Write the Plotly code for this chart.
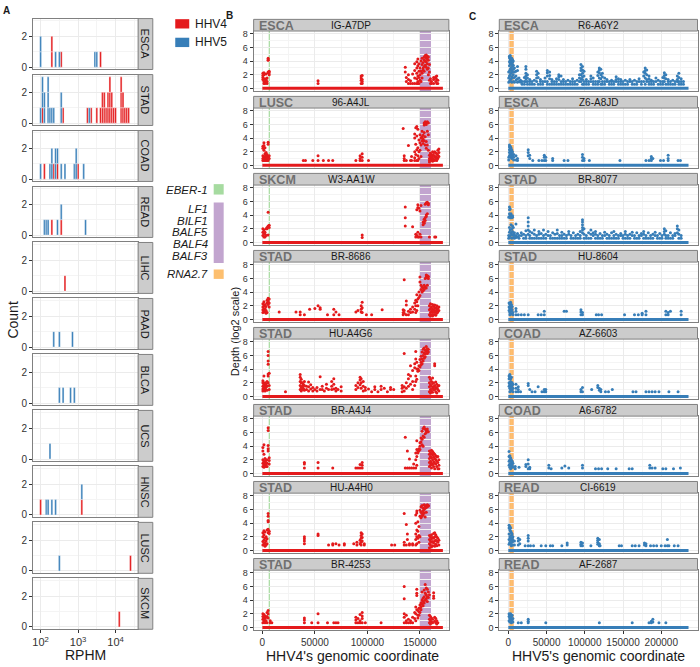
import plotly.graph_objects as go

W, H = 700, 667
FONT = 'Liberation Sans, Arial, Helvetica, sans-serif'
RED, BLUE = '#e41a1c', '#377eb8'
GREEN_GENE, PURPLE_GENE, ORANGE_GENE = '#a6dba0', '#c2a5cf', '#fdbf6f'

# ---------------- Panel A: histogram bins (log10 RPHM bin centre) and counts ----------------
A_CANCERS = ['ESCA', 'STAD', 'COAD', 'READ', 'LIHC', 'PAAD', 'BLCA', 'UCS', 'HNSC', 'LUSC', 'SKCM']
A_HHV4_BINS = {
    'ESCA': [2.30, 2.55, 3.60],
    'STAD': [2.05, 2.60, 3.25, 3.35, 3.50, 3.60, 3.65, 3.70, 3.75, 3.80, 3.85, 3.90, 3.95, 4.00,
             4.15, 4.20, 4.25, 4.30, 4.35],
    'COAD': [2.10, 2.35, 2.45, 3.00],
    'READ': [2.30, 2.55],
    'LIHC': [2.65],
    'HNSC': [2.00, 3.10],
    'LUSC': [4.40],
    'SKCM': [4.10],
}
A_HHV4_COUNTS = {
    'ESCA': [2, 1, 1],
    'STAD': [1, 1, 1, 1, 1, 1, 2, 2, 1, 2, 3, 2, 1, 1, 3, 2, 1, 1, 1],
    'COAD': [1, 1, 1, 1],
    'READ': [1, 1],
    'LIHC': [1],
    'HNSC': [1, 1],
    'LUSC': [1],
    'SKCM': [1],
}
A_HHV5_BINS = {
    'ESCA': [2.00, 2.40, 2.50, 3.45, 3.50],
    'STAD': [2.00, 2.05, 2.10, 2.20, 2.25, 2.30, 2.35, 2.55, 3.30],
    'COAD': [2.00, 2.25, 2.30, 2.40, 2.45, 2.55, 2.65, 2.90, 2.95, 3.15],
    'READ': [2.10, 2.15, 2.20, 2.45, 2.55, 3.20],
    'PAAD': [2.35, 2.50, 2.85],
    'BLCA': [2.50, 2.60, 2.80, 2.90],
    'UCS': [2.25],
    'HNSC': [2.15, 2.20, 2.30, 2.40, 3.10],
    'LUSC': [2.50],
}
A_HHV5_COUNTS = {
    'ESCA': [2, 1, 1, 1, 1],
    'STAD': [1, 2, 2, 3, 1, 1, 1, 2, 1],
    'COAD': [1, 1, 2, 2, 1, 1, 1, 1, 2, 1],
    'READ': [1, 1, 1, 1, 1, 1],
    'PAAD': [1, 1, 1],
    'BLCA': [1, 1, 1, 1],
    'UCS': [1],
    'HNSC': [1, 1, 1, 1, 1],
    'LUSC': [1],
}
A_BIN_WIDTH = 0.05
A_XTICKS = [2, 3, 4]
A_XTICKTEXT = ['10<sup>2</sup>', '10<sup>3</sup>', '10<sup>4</sup>']

# ---------------- Panels B / C: (position in kb, [log2 depths]) columns ----------------
HHV4_LENGTH = 171823
HHV5_LENGTH = 235646
EBER1_POS = 6600
LF1_BALF3 = (150000, 160500)
RNA27 = (2000, 6500)

B1_ESCA_IG_A7DP = [
    (0.5, [2.2, 1.9, 1.6, 1.3]), (1.5, [2.3, 2.0, 1.0, 0.7]), (2.5, [1.4, 1.0, 0.7]), (3.5, [2.1, 1.3, 1.0]),
    (4.5, [1.5, 1.0, 0.7]), (5.5, [2.4, 2.3, 4.1, 4.4, 4.2]), (6.5, [2.5, 2.3, 2.0]),
    (53, [1.1, 0.7]), (94, [1.8, 1.5, 1.2, 0.7]), (95, [1.9, 1.3, 1.0, 0.7]),
    (136, [3.1, 2.4]), (137, [1.6, 1.0]), (139, [2.0, 1.3, 0.7]), (141, [0.7, 1.1]), (143, [2.1, 0.7]),
    (145, [3.6, 2.6, 1.5, 0.7]), (147, [3.9, 3.0, 2.2, 1.4, 0.7]), (148, [4.3, 3.3, 1.8, 1.0, 0.7]),
    (149, [3.6, 2.5, 1.6, 0.7]), (150, [3.0, 2.0, 1.2]), (151, [4.0, 2.5, 1.0]), (152, [4.4, 3.5, 2.2, 1.5]),
    (153, [3.8, 3.0, 2.7]), (154, [4.2, 4.6, 3.2, 2.5]), (155, [4.8, 4.0, 3.4]), (156, [4.5, 4.9, 3.9, 3.1]),
    (157, [4.3, 4.7, 3.6, 2.8]), (158, [4.6, 4.1, 3.0, 2.0]), (159, [3.5, 2.4, 1.2]), (160, [1.4, 0.7]),
    (161, [1.0, 0.7]), (163, [1.3, 1.6, 0.7]), (165, [1.7, 1.5, 1.0]), (166, [1.8, 1.3, 0.7]), (167, [1.2, 0.7]),
]
B2_LUSC_96_A4JL = [
    (0.5, [2.8, 2.5, 1.4, 1.0, 0.7]), (1.5, [3.3, 2.9, 2.2, 1.2, 0.7]), (2.5, [2.6, 1.7, 1.3, 1.0, 0.7]),
    (3.5, [1.9, 1.5, 1.2, 0.7]), (4.5, [1.6, 1.3, 1.0, 0.7]), (5.5, [3.4, 3.1, 1.2, 0.7]), (6.5, [1.4, 1.0]),
    (39, [0.7]), (41, [0.7]), (48, [0.7]), (53, [1.4, 0.7]), (58, [0.7]), (63, [0.7]), (67, [0.7]), (89, [0.7]),
    (93, [0.7, 1.0, 1.4]), (95, [1.7, 1.2, 0.7]), (101, [0.7]),
    (134, [5.4]), (135, [1.4, 1.0, 0.7]), (137, [0.7]), (139, [2.9]), (141, [0.7]), (142, [1.3, 0.7]),
    (145, [4.6, 4.0, 2.0, 1.1, 0.7]), (146, [5.5, 3.1, 1.6]), (147, [5.7, 4.3, 2.3, 0.7]),
    (148, [5.3, 2.6, 1.4, 0.7]), (149, [3.7, 2.0, 1.0]), (150, [4.5, 3.3, 2.2]), (151, [4.0, 3.0, 1.3]),
    (152, [5.0, 4.2, 3.6]), (153, [4.4, 3.9, 3.2]), (154, [6.2, 5.9, 4.8, 3.6]), (155, [6.4, 6.1, 4.2, 3.0]),
    (156, [6.0, 6.3, 3.5, 2.5]), (157, [6.4, 5.0, 3.0]), (158, [6.2, 4.5, 2.2]),
    (159, [1.5, 1.0, 0.7, 0.5]), (160, [1.8, 1.3, 0.9]), (161, [1.6, 1.1, 0.7]), (162, [2.0, 1.4, 1.0, 0.6]),
    (163, [1.9, 1.5, 0.8]), (164, [2.0, 1.2, 0.7]), (165, [1.8, 1.3, 1.0]), (166, [1.7, 1.1, 0.7]),
    (167, [2.2, 1.5, 1.0]), (168, [2.4, 1.9, 1.3]),
]
B3_SKCM_W3_AA1W = [
    (0.5, [2.0, 1.5, 1.0]), (1.5, [1.8, 1.3, 0.8]), (2.5, [1.5, 1.2, 0.8]), (3.5, [2.0, 1.0]),
    (4.5, [2.2, 2.0]), (5.5, [2.4, 2.3, 4.4, 1.1]), (6.5, [2.5, 2.2]),
    (95, [1.1, 0.7]),
    (136, [5.2, 3.6, 2.4]), (143, [2.3]), (146, [1.2, 0.8]), (147, [4.8, 1.0]), (148, [5.5, 5.1, 1.5, 0.8]),
    (149, [5.0, 0.8]), (150, [4.6, 1.2]), (151, [5.4, 0.8]),
    (153, [3.0, 2.6]), (154, [3.4, 3.0, 2.8]), (155, [3.6, 3.2, 5.6]), (156, [4.0, 3.8, 5.8]),
    (157, [5.9, 5.7, 4.2]), (158, [5.7, 5.5]), (159, [0.8]), (164, [0.8]), (165, [0.8]),
]
B4_STAD_BR_8686 = [
    (0.5, [2.3, 1.8, 1.4, 1.0]), (1.5, [2.6, 2.0, 1.5, 1.1]), (2.5, [2.2, 1.6, 1.2]), (3.5, [1.9, 1.3, 0.9]),
    (4.5, [2.8, 2.4, 1.0]), (5.5, [3.1, 2.7, 2.2]), (6.5, [3.0, 2.4, 1.8]),
    (16, [1.1]), (32, [1.1]), (36, [1.1, 0.7]), (40, [0.7]), (45, [1.5]), (50, [1.6]), (53, [2.0]),
    (55, [1.7, 1.5]), (62, [0.7]), (68, [1.5, 0.7]), (70, [1.1]), (73, [0.7]),
    (89, [1.1]), (91, [1.3]), (94, [2.0, 1.5, 1.1]), (95, [2.5, 1.7, 1.0]), (99, [0.7]), (104, [0.7]), (114, [1.4]),
    (134, [1.4, 1.0, 0.7]), (135, [5.8, 1.3, 0.9]), (137, [2.7, 2.1, 0.7]), (139, [1.2, 0.7]), (141, [1.5, 1.0]),
    (143, [1.8, 1.1]), (145, [2.4, 1.5]), (146, [2.8, 2.0, 1.0]), (147, [3.6, 2.6, 1.3]),
    (148, [3.0, 2.0]), (149, [4.0, 3.2]), (150, [6.2, 5.5, 3.5]), (151, [5.0, 4.4]), (152, [4.8, 4.0]),
    (153, [4.6, 4.2]), (154, [4.4, 5.0]), (155, [6.0, 4.8]), (156, [6.5, 6.2, 4.6]), (157, [6.4, 6.1, 5.0]),
    (158, [6.3, 6.0]),
    (159, [2.0, 1.4, 0.7]), (160, [2.3, 1.6, 1.0, 0.5]), (161, [1.8, 1.2, 0.7]), (162, [2.2, 1.5, 1.0, 0.5]),
    (163, [1.9, 1.3, 0.7]), (164, [2.1, 1.6, 1.0]), (165, [1.7, 1.2, 0.6]), (166, [2.0, 1.4, 0.9]),
    (167, [1.6, 1.1]), (168, [1.8, 1.3]),
]
B5_STAD_HU_A4G6 = [
    (0.5, [2.3, 2.0, 1.5, 1.1, 0.8]), (1.5, [3.0, 1.8, 1.3, 1.0]), (2.5, [2.0, 1.6, 1.2, 0.8]),
    (3.5, [1.8, 1.4, 1.0]), (4.5, [2.2, 1.5, 0.9]), (5.5, [6.6, 6.0, 5.2, 4.7, 3.3, 3.0, 2.0]),
    (6.5, [3.4, 1.6, 1.0]), (22, [0.7]),
    (36, [3.2, 2.8, 2.2, 1.6, 1.0]), (37, [2.5, 2.0, 1.3, 0.8]), (38, [2.0, 1.5, 1.0]), (39, [1.8, 1.2]),
    (40, [2.2, 1.6, 0.9]), (42, [1.5, 1.0]), (44, [2.1, 1.4, 0.8]), (46, [1.7, 1.1]), (48, [1.3, 0.8]),
    (50, [1.0]), (52, [1.3, 0.8]), (55, [2.9, 1.0]), (57, [1.5, 1.0]), (59, [0.8]), (61, [1.8, 1.2]),
    (63, [1.0]), (66, [2.2, 1.5, 1.0]), (68, [2.6, 1.8, 1.1]), (70, [1.2, 0.8]), (72, [1.0]), (75, [1.4, 0.8]),
    (89, [1.6, 1.0]), (91, [2.0, 1.3]), (93, [2.8, 2.4, 1.7]), (94, [2.6, 2.0, 1.2]), (96, [2.2, 1.5, 0.8]),
    (98, [1.3, 0.9]), (101, [1.1]), (104, [0.7]), (107, [1.4, 1.0]), (110, [0.7]), (113, [1.5, 1.0]),
    (116, [1.2]), (119, [0.7]), (122, [1.3, 1.0]), (125, [1.0]),
    (133, [1.6, 1.2, 0.7]), (135, [6.3, 1.4, 0.8]), (137, [2.0, 1.2]), (139, [3.2, 2.6, 1.5]),
    (141, [4.5, 3.0, 1.8]), (143, [3.8, 2.2, 1.0]), (145, [4.8, 4.2, 1.6]), (146, [6.6, 5.5, 3.0, 2.2]),
    (147, [5.0, 4.0, 2.5]), (148, [4.0, 3.7]), (149, [4.5, 3.8]), (150, [5.4, 4.3]), (151, [5.9, 5.0, 4.6]),
    (152, [6.5, 5.5, 4.8]), (153, [6.9, 6.0, 5.2]), (154, [7.1, 6.4, 5.6]), (155, [6.8, 6.2, 5.8]),
    (156, [7.3, 6.6]), (157, [7.0, 6.7, 6.3]), (158, [6.9, 6.5]),
    (159, [2.8, 2.0, 1.4, 0.7]), (160, [2.5, 1.7, 1.0, 0.5]), (161, [2.2, 1.5, 0.8]), (162, [2.7, 1.9, 1.2, 0.6]),
    (163, [2.0, 1.4, 1.0]), (164, [4.8, 4.5, 1.6, 1.0]), (165, [2.1, 1.3, 0.7]), (166, [1.8, 1.2, 0.5]),
    (167, [1.5, 1.0]), (168, [1.6, 0.8]),
]
B6_STAD_BR_A4J4 = [
    (0.5, [3.8, 3.3, 2.0, 1.5, 1.0]), (1.5, [4.2, 2.8, 1.8, 1.3, 0.9]), (2.5, [2.2, 1.6, 1.2]),
    (3.5, [1.9, 1.4, 1.0]), (4.5, [2.0, 1.5, 1.0]), (5.5, [6.7, 6.3, 4.1, 3.6, 3.3]), (6.5, [2.3, 1.9, 1.4]),
    (40, [1.6, 1.4, 0.8]), (53, [1.6, 0.8]), (67, [0.8]), (89, [0.8]), (91, [0.8]), (93, [1.3, 0.8]),
    (95, [1.6, 1.2, 0.8]),
    (136, [5.3, 0.8]), (138, [3.3, 0.8]), (140, [2.1, 0.8]), (142, [0.8]), (144, [1.4, 0.8]),
    (146, [3.0, 2.0, 0.8]), (147, [4.8, 3.5, 2.5, 1.2]),
    (148, [3.2, 3.0]), (149, [3.6, 3.3]), (150, [4.5, 4.0, 3.5]), (151, [5.2, 4.6]), (152, [6.2, 5.0, 4.2]),
    (153, [6.6, 5.5, 4.0]), (154, [6.8, 5.3]), (155, [6.5, 5.8]), (156, [6.3, 6.0]), (157, [6.5, 6.2]),
    (158, [6.1]),
    (159, [3.3, 2.8, 2.2, 1.6, 1.0]), (160, [3.0, 2.5, 1.8, 1.2]), (161, [3.4, 2.9, 2.3, 1.5, 0.8]),
    (162, [3.2, 2.7, 2.0, 1.3]), (163, [3.0, 2.4, 1.7, 1.0]), (164, [2.8, 2.2, 1.5, 0.7]),
    (165, [2.6, 2.0, 1.4]), (166, [2.4, 1.8, 1.0]), (167, [2.5, 1.6, 0.7]), (168, [2.0, 1.2, 0.7]),
]
B7_STAD_HU_A4H0 = [
    (0.5, [2.6, 2.0, 1.3, 0.8]), (1.5, [2.9, 2.3, 1.5, 1.0]), (2.5, [2.7, 1.8, 1.1, 0.6]), (3.5, [2.0, 1.4, 0.8]),
    (4.5, [3.0, 1.7, 1.0]), (5.5, [5.4, 5.0, 4.4, 4.2, 3.1, 2.6]), (6.5, [2.8, 2.5]),
    (40, [2.0, 1.7, 1.4, 1.0]), (53, [2.4, 2.2]), (63, [0.8]), (67, [1.0, 0.8]), (70, [1.0]), (73, [0.8]),
    (78, [1.0, 0.8]), (87, [1.0]), (90, [1.2, 0.8]), (93, [1.5, 1.0]), (94, [2.6, 2.2, 1.8, 1.2, 0.8]),
    (95, [2.4, 1.9, 1.4]), (97, [1.0, 0.8]), (123, [0.8]), (126, [0.8]),
    (135, [5.4, 1.2, 0.8]), (137, [3.8, 0.8]), (138, [2.4, 1.6]), (140, [1.0, 0.8]), (143, [1.0, 0.8]),
    (146, [5.2, 4.0, 2.4, 1.6, 0.8]), (147, [5.8, 5.5, 3.0, 2.0, 1.0]),
    (148, [4.2, 2.8, 1.8]), (149, [3.5, 2.2, 1.2]), (150, [5.9, 5.0, 2.0]), (151, [6.4, 5.6, 4.8]),
    (152, [6.6, 5.4, 5.0]), (153, [6.2, 5.8, 5.2]), (154, [6.7, 6.0, 5.5]), (155, [6.5, 6.2, 4.9]),
    (156, [6.6, 6.3, 5.6]), (157, [6.7, 6.4]), (158, [6.6, 6.5]),
    (159, [2.2, 1.6, 1.0, 0.4]), (160, [2.0, 1.4, 0.8]), (161, [2.3, 1.7, 1.2, 0.5]), (162, [1.9, 1.3, 0.7]),
    (163, [2.5, 1.8, 1.1]), (164, [2.6, 2.0, 1.4, 0.6]), (165, [2.3, 1.5, 0.9]), (166, [2.0, 1.4, 0.7]),
    (167, [1.8, 1.2]), (168, [1.5, 0.8]),
]
B8_STAD_BR_4253 = [
    (0.5, [2.0, 1.6, 1.2, 0.7]), (1.5, [1.9, 1.4, 1.0]), (2.5, [1.7, 1.3, 0.7]), (3.5, [1.5, 1.0]),
    (4.5, [2.2, 1.6, 0.7]), (5.5, [2.5, 2.0, 1.4]), (7.5, [1.0, 0.7]), (9, [0.7]),
    (40, [1.4, 1.1, 0.7]), (47, [0.7]), (53, [2.0, 0.7]), (62, [0.7]), (68, [0.7]), (70, [0.7]), (72, [0.7]),
    (89, [1.5, 1.1, 0.7]), (91, [1.3, 0.7]), (93, [1.9, 1.0, 0.7]), (95, [2.2, 1.7, 1.3, 0.7]), (98, [0.7]),
    (113, [0.7]),
    (135, [6.0, 4.2, 2.0, 1.5, 0.7]), (137, [1.8, 1.0, 0.7]), (139, [1.2, 0.7]), (141, [1.0, 0.7]),
    (143, [1.5, 0.7]), (145, [2.2, 1.3]), (146, [3.0, 2.0, 1.0]), (147, [5.6, 5.0, 4.7, 2.6]),
    (148, [2.5, 1.8, 1.4]), (149, [2.8, 2.3, 1.8]), (150, [3.3, 2.8, 2.2]), (151, [3.6, 3.0, 2.6]),
    (152, [4.0, 3.4, 5.2]), (153, [4.3, 3.8, 3.2]), (154, [5.5, 4.5, 3.6]), (155, [6.3, 5.0, 4.0]),
    (156, [5.8, 4.8, 4.2]), (157, [5.6, 4.5, 3.8]), (158, [5.2, 4.4]),
    (159, [4.8, 1.8, 1.2, 0.7]), (160, [1.6, 1.0, 0.5]), (161, [1.4, 0.8]), (162, [1.2, 0.7]),
    (163, [5.1, 4.6, 4.3]), (164, [1.5, 0.9]), (165, [1.3, 0.7]), (166, [1.0, 0.5]), (167, [0.7]),
]

C1_ESCA_R6_A6Y2 = [
    (0.5, [2.4, 1.5, 0.9]), (1.5, [4.7, 4.5, 3.9, 3.3, 2.5, 1.8, 1.0]), (2.5, [4.8, 4.3, 4.0, 3.6, 2.8, 2.0, 1.2]),
    (3.5, [4.5, 4.1, 3.7, 3.0, 2.2, 1.4]), (4.5, [4.4, 3.9, 3.5, 2.6, 1.7, 0.9]), (5.5, [4.2, 3.8, 3.2, 2.4, 1.5]),
    (6.5, [4.0, 3.4, 2.8, 2.0, 1.0]), (8, [3.0, 2.4, 1.6, 0.9]), (10, [2.5, 1.8, 1.2]), (12, [3.2, 2.6, 1.4, 0.9]),
    (14, [1.5, 1.0]), (16, [1.2, 0.9]),
    (18, [1.0, 0.6]), (21, [1.6, 1.0, 0.6]), (23, [3.2, 2.8, 2.2, 1.8, 1.4, 1.0]), (25, [2.0, 1.5, 1.0, 0.6]),
    (28, [1.3, 1.0, 0.6]), (31, [1.0, 0.6]), (34, [1.2, 0.6]), (37, [2.5, 2.0, 1.5, 1.0]), (39, [2.2, 1.6, 0.6]),
    (42, [1.3, 1.0, 0.6]), (45, [1.0, 0.6]), (48, [1.5, 1.0]), (51, [2.6, 2.3, 1.8, 1.0, 0.6]),
    (54, [2.4, 1.9, 1.4, 0.6]), (57, [1.3, 1.0, 0.6]), (60, [1.0, 0.6]), (63, [1.4, 1.0, 0.6]),
    (66, [2.0, 1.7, 1.3, 0.6]), (69, [1.8, 1.0, 0.6]), (72, [1.3, 1.0, 0.6]), (75, [1.0, 0.6]), (78, [1.2, 0.6]),
    (81, [1.0, 0.6]), (84, [1.4, 1.0, 0.6]), (87, [1.0, 0.6]), (90, [1.2, 0.6]), (93, [2.0, 1.5, 1.0]),
    (95, [3.5, 3.0, 2.6, 2.0, 1.4, 1.0]), (97, [3.2, 2.7, 2.2, 1.7, 1.3, 0.6]), (99, [2.5, 1.8, 1.0, 0.6]),
    (102, [1.3, 1.0, 0.6]), (105, [1.0, 0.6]), (108, [1.8, 1.4, 1.0]), (111, [1.5, 1.0, 0.6]), (114, [1.0, 0.6]),
    (117, [2.4, 1.9, 1.0, 0.6]), (119, [3.0, 2.7, 2.3, 1.5, 1.0]), (121, [2.8, 2.0, 1.4, 0.6]),
    (123, [2.2, 1.7, 1.0, 0.6]), (126, [1.5, 1.0, 0.6]), (129, [1.3, 1.0]), (132, [1.0, 0.6]),
    (135, [1.2, 1.0, 0.6]), (138, [1.0, 0.6]), (141, [1.7, 1.3, 1.0]), (144, [1.4, 1.0, 0.6]),
    (147, [1.3, 1.0, 0.6]), (150, [1.0, 0.6]), (153, [1.2, 0.6]), (156, [1.0, 0.6]), (159, [1.3, 1.0]),
    (162, [1.0, 0.6]), (165, [1.2, 0.6]), (168, [1.0, 0.6]), (171, [1.4, 1.0]), (174, [1.0, 0.6]),
    (177, [2.4, 1.8, 1.0]), (179, [3.0, 2.6, 2.2, 1.5, 0.6]), (181, [2.7, 2.0, 1.3, 1.0]),
    (184, [1.8, 1.4, 1.0, 0.6]), (187, [1.2, 1.0, 0.6]), (190, [1.0, 0.6]), (193, [1.5, 1.0]), (196, [1.2, 0.6]),
    (199, [1.0, 0.6]), (202, [1.6, 1.0, 0.6]), (204, [2.3, 1.9, 1.5, 1.0]), (206, [2.0, 1.4, 0.6]),
    (209, [1.3, 1.0, 0.6]), (212, [1.0, 0.6]), (215, [1.2, 0.6]), (218, [1.0, 0.6]), (221, [1.8, 1.3, 1.0]),
    (223, [2.2, 1.6, 1.0, 0.6]), (226, [1.4, 1.0, 0.6]), (229, [1.0, 0.6]),
]
C2_ESCA_Z6_A8JD = [
    (0.5, [1.2, 0.8]), (1.5, [3.0, 2.7, 2.3, 1.9, 1.4]), (2.5, [2.8, 2.4, 2.0, 1.6, 1.2]),
    (3.5, [2.6, 2.2, 1.8, 1.3]), (4.5, [2.3, 2.0, 1.5, 1.0]), (5.5, [2.0, 1.6, 1.2]), (7, [1.6, 1.2, 0.8]),
    (10, [1.4, 0.8]), (12, [1.0, 0.7]),
    (26, [2.3, 1.9, 1.4]), (28, [1.5, 1.0]), (32, [0.7]), (40, [0.7]), (44, [0.7]), (47, [1.5, 1.2, 0.7]),
    (49, [1.2, 0.7]), (58, [1.0, 0.7]), (73, [0.7]), (78, [0.7]),
    (97, [1.6, 1.2, 0.7]), (99, [1.0, 0.7]), (106, [0.7]), (146, [0.7]),
    (180, [0.7]), (184, [0.7]), (187, [1.3, 1.0, 0.7]), (189, [1.0]), (199, [0.7]), (203, [0.7]),
    (209, [1.5, 1.0, 0.7]), (222, [0.7]), (225, [0.7]),
]
C3_STAD_BR_8077 = [
    (0.5, [3.7, 1.0, 0.6]), (1.5, [5.2, 4.8, 4.2, 3.8, 2.2, 1.5, 0.7]), (2.5, [4.9, 4.0, 3.8, 3.6, 1.8, 1.0]),
    (3.5, [4.2, 3.9, 3.7, 2.6, 1.4]), (4.5, [3.8, 3.6, 2.0, 1.1, 0.6]), (5.5, [3.9, 3.7, 2.4, 1.6]),
    (6.5, [2.2, 1.2, 0.7]), (8, [1.4, 1.0, 0.6]), (10, [2.7, 1.0, 0.7]), (12, [1.3, 0.8]),
    (14, [1.0, 0.6]), (17, [1.4, 1.0]), (20, [1.2, 0.6]), (23, [1.7, 1.0, 0.6]), (26, [3.6, 3.0, 2.4, 1.8, 1.2]),
    (28, [1.6, 1.0, 0.6]), (31, [1.4, 0.6]), (34, [1.8, 1.2, 0.6]), (37, [1.0, 0.6]), (40, [1.6, 1.2, 0.6]),
    (43, [1.3, 0.6]), (46, [1.8, 1.0, 0.6]), (49, [1.2, 0.6]), (52, [1.6, 1.0]), (55, [1.0, 0.6]),
    (58, [1.4, 0.6]), (61, [1.2, 0.6]), (64, [1.8, 1.3, 0.6]), (67, [1.0, 0.6]), (70, [1.5, 1.0, 0.6]),
    (73, [1.2, 0.6]), (76, [1.0, 0.6]), (79, [1.6, 1.2]), (82, [1.0, 0.6]), (85, [1.4, 0.6]), (88, [1.0, 0.6]),
    (91, [1.2, 0.6]), (94, [1.6, 1.0, 0.6]), (97, [3.3, 3.0, 2.6, 2.2, 1.8, 1.4]), (99, [2.0, 1.2, 0.6]),
    (102, [1.0, 0.6]), (105, [1.4, 0.6]), (108, [1.8, 1.2, 0.6]), (111, [1.4, 1.0]), (114, [1.6, 1.2, 0.6]),
    (117, [1.0, 0.6]), (120, [1.3, 0.6]), (123, [1.0, 0.6]), (126, [1.5, 1.0]), (129, [1.2, 0.6]),
    (132, [1.0, 0.6]), (135, [1.4, 0.6]), (138, [1.6, 1.0, 0.6]), (141, [1.2, 0.6]), (144, [1.0, 0.6]),
    (147, [1.3, 1.0]), (150, [1.0, 0.6]), (153, [1.6, 1.2, 0.6]), (156, [1.0, 0.6]), (159, [1.2, 0.6]),
    (162, [1.5, 1.0]), (165, [1.0, 0.6]), (168, [1.4, 0.6]), (171, [1.0, 0.6]), (174, [1.3, 1.0]),
    (177, [1.6, 1.2, 0.6]), (180, [1.0, 0.6]), (183, [1.4, 0.6]), (186, [1.0, 0.6]), (189, [1.2, 0.6]),
    (192, [1.5, 1.0]), (195, [1.0, 0.6]), (198, [1.3, 0.6]), (201, [1.0, 0.6]), (204, [2.0, 1.6, 1.2]),
    (206, [1.7, 1.0, 0.6]), (209, [1.0, 0.6]), (212, [1.4, 0.6]), (215, [1.0, 0.6]), (218, [1.3, 1.0]),
    (221, [2.4, 2.0, 1.4]), (223, [1.8, 1.2, 0.6]), (226, [1.0, 0.6]),
]
C4_STAD_HU_8604 = [
    (1, [2.4, 1.8, 1.3]), (2, [2.2, 1.6, 1.0, 0.7]), (3, [2.5, 2.0, 1.5]), (4, [2.2, 1.7, 1.2, 0.8]),
    (5, [1.9, 1.4]), (6, [1.0, 0.7]), (10, [1.6, 1.2, 0.7]), (13, [0.7]), (17, [0.7]), (21, [0.7]), (26, [0.7]),
    (39, [0.7]), (43, [0.7]), (47, [1.2, 0.7]), (73, [1.2]), (76, [1.2]), (95, [1.4, 1.1, 0.7]), (97, [1.0, 0.7]),
    (115, [0.7]), (118, [0.7]), (122, [0.7]), (152, [0.7]), (165, [0.7]), (170, [0.7]), (175, [0.9, 0.7]),
    (180, [1.2, 0.7]), (206, [1.2, 0.7]), (209, [1.0, 0.7]), (212, [1.2]), (226, [1.2, 0.7]),
]
C5_COAD_AZ_6603 = [
    (1, [3.0, 2.6, 2.0, 1.5]), (2, [3.2, 2.8, 1.8, 1.2, 0.7]), (3, [2.9, 2.6, 2.2, 1.6, 1.0]),
    (4, [2.8, 2.0, 1.4, 0.8]), (5, [2.0, 1.6, 1.0]), (6, [1.8, 1.2, 0.7]), (10, [1.8, 1.2, 0.7]),
    (13, [1.4, 1.0, 0.7]), (16, [0.7]), (26, [1.9, 1.6]), (28, [1.0]), (31, [0.7]), (35, [0.7]), (39, [1.4]),
    (44, [0.7]), (47, [1.0, 0.7]), (49, [1.0, 0.7]),
    (95, [1.0, 0.7]), (97, [0.7, 1.3]), (109, [1.0]), (117, [1.6, 1.3]), (119, [1.2, 0.9]), (121, [1.0, 0.7]),
    (127, [0.7]), (131, [0.7]), (136, [1.0]),
    (163, [0.7]), (167, [0.7]), (180, [0.7]), (184, [0.7]), (188, [0.7]), (192, [0.7]), (197, [0.7]),
    (210, [0.7]), (222, [0.7]),
]
C6_COAD_A6_6782 = [
    (1, [3.2, 2.5, 1.8, 1.2]), (2, [2.6, 2.0, 1.4, 0.9]), (3, [2.3, 1.8, 1.2, 0.7]), (4, [2.0, 1.5, 0.9]),
    (5, [1.8, 1.2]), (6, [1.5, 0.9]), (9, [1.0, 0.7]), (14, [0.9]), (23, [1.3, 1.0]), (26, [2.0, 1.4, 0.7]),
    (28, [0.9, 0.7]),
    (53, [1.2, 0.8]), (56, [0.7]), (70, [0.8]), (74, [1.1]), (79, [0.8]), (97, [1.2, 0.8]), (114, [0.7]),
    (118, [0.7]), (122, [0.7]), (130, [0.7]), (141, [0.7]), (158, [0.7]), (162, [0.7]),
    (185, [1.2, 0.8]), (188, [0.8]), (192, [0.8]), (202, [0.7]), (206, [0.7]), (216, [0.7]), (225, [0.8]),
]
C7_READ_CI_6619 = [
    (1, [3.7, 3.3, 2.4, 1.6, 0.9]), (2, [3.5, 3.0, 2.0, 1.2]), (3, [3.3, 2.8, 1.8, 1.0]), (4, [2.6, 2.2, 1.5, 0.7]),
    (5, [2.4, 1.8, 1.2]), (6, [2.0, 1.5, 0.8]), (8, [1.4, 0.8]), (13, [1.8, 1.4, 0.8]), (15, [1.6, 1.0]),
    (22, [0.7]), (26, [2.2, 1.8, 1.4, 0.7]), (29, [0.7]), (33, [0.7]), (43, [0.7]), (49, [0.7]), (55, [0.7]),
    (58, [0.7]), (70, [0.7]), (77, [1.1, 0.8]), (95, [1.2, 0.9, 0.7]), (97, [1.1, 0.7]), (108, [0.7]),
    (117, [1.8, 1.5, 1.2, 0.9]), (119, [1.6, 1.0, 0.7]), (120, [0.7]),
    (145, [0.7]), (148, [0.7]), (162, [0.7]), (166, [0.7]), (171, [0.7]), (178, [1.1, 0.8]), (180, [1.0, 0.7]),
    (186, [0.7]), (190, [0.7]), (194, [0.7]), (200, [0.7]), (205, [0.7]), (208, [1.6, 0.7]), (210, [0.7]),
    (217, [0.7]), (222, [0.7]),
]
C8_READ_AF_2687 = [
    (1, [2.0, 1.6, 1.0]), (2, [1.8, 1.3, 0.8]), (3, [2.0, 1.4, 0.9]), (4, [1.6, 1.2, 0.7]), (5, [1.8, 1.0]),
    (6, [1.3, 0.8]), (13, [0.7]), (17, [0.7]), (26, [1.2, 0.9, 0.7]), (49, [0.7]), (119, [0.7]), (162, [0.7]),
    (184, [0.7]), (187, [0.9, 0.7]), (189, [1.2, 0.8]), (197, [0.7]), (206, [0.7]),
]

B_PANELS = [('ESCA', 'IG-A7DP', B1_ESCA_IG_A7DP), ('LUSC', '96-A4JL', B2_LUSC_96_A4JL),
            ('SKCM', 'W3-AA1W', B3_SKCM_W3_AA1W), ('STAD', 'BR-8686', B4_STAD_BR_8686),
            ('STAD', 'HU-A4G6', B5_STAD_HU_A4G6), ('STAD', 'BR-A4J4', B6_STAD_BR_A4J4),
            ('STAD', 'HU-A4H0', B7_STAD_HU_A4H0), ('STAD', 'BR-4253', B8_STAD_BR_4253)]
C_PANELS = [('ESCA', 'R6-A6Y2', C1_ESCA_R6_A6Y2), ('ESCA', 'Z6-A8JD', C2_ESCA_Z6_A8JD),
            ('STAD', 'BR-8077', C3_STAD_BR_8077), ('STAD', 'HU-8604', C4_STAD_HU_8604),
            ('COAD', 'AZ-6603', C5_COAD_AZ_6603), ('COAD', 'A6-6782', C6_COAD_A6_6782),
            ('READ', 'CI-6619', C7_READ_CI_6619), ('READ', 'AF-2687', C8_READ_AF_2687)]

# ---------------- helpers ----------------
def xdom(l, r):
    return [l / W, r / W]

def ydom(t, b):
    return [1 - b / H, 1 - t / H]

def px(x):
    return x / W

def py(y):
    return 1 - y / H

def flatten(cols):
    xs, ys = [], []
    for kb, depths in cols:
        for d in depths:
            xs.append(kb * 1000)
            ys.append(d)
    return xs, ys

GRID = '#ebebeb'
MINOR = '#f4f4f4'
FRAME = '#808080'
STRIP = '#cccccc'
TICKFONT = dict(family=FONT, size=10, color='#333333')

fig = go.Figure()
layout = {}
shapes = []
annotations = []

# ---------------- Panel A ----------------
A_L, A_R = 32.0, 137.3
A_TOP0, A_STEP, A_H = 16.7, 56.4, 51.3
for i, c in enumerate(A_CANCERS):
    n = i + 1
    top = A_TOP0 + i * A_STEP
    bot = top + A_H
    stack = {}
    for bins_d, counts_d, color in [(A_HHV4_BINS, A_HHV4_COUNTS, RED), (A_HHV5_BINS, A_HHV5_COUNTS, BLUE)]:
        xs, bases = [], []
        for b, cnt in zip(bins_d.get(c, []), counts_d.get(c, [])):
            off = stack.get(b, 0)
            for k in range(cnt):
                xs.append(b)
                bases.append(off + k)
            stack[b] = off + cnt
        if xs:
            fig.add_trace(go.Bar(x=xs, y=[1] * len(xs), base=bases, width=A_BIN_WIDTH,
                                 marker=dict(color=color, line=dict(color='white', width=0.4)),
                                 xaxis=f'x{n}', yaxis=f'y{n}', showlegend=False, hoverinfo='skip'))
    last = (i == len(A_CANCERS) - 1)
    layout[f'xaxis{n}'] = dict(domain=xdom(A_L, A_R), range=[1.795, 4.603], anchor=f'y{n}',
                               tickvals=A_XTICKS, ticktext=A_XTICKTEXT, showticklabels=last,
                               ticks='outside' if last else '', ticklen=3, tickcolor='#333333',
                               tickfont=dict(family=FONT, size=11, color='#333333'),
                               showgrid=True, gridcolor=GRID, gridwidth=0.7,
                               minor=dict(tickvals=[2.5, 3.5, 4.5], showgrid=True, gridcolor=MINOR, ticks=''),
                               showline=True, mirror=True, linecolor=FRAME, linewidth=1, zeroline=False)
    layout[f'yaxis{n}'] = dict(domain=ydom(top, bot), range=[-0.15, 3.15], anchor=f'x{n}',
                               tickvals=[0, 2], ticks='outside', ticklen=3, tickcolor='#333333',
                               tickfont=TICKFONT, showgrid=True, gridcolor=GRID, gridwidth=0.7,
                               minor=dict(tickvals=[1, 3], showgrid=True, gridcolor=MINOR, ticks=''),
                               showline=True, mirror=True, linecolor=FRAME, linewidth=1, zeroline=False)
    shapes.append(dict(type='rect', xref='paper', yref='paper', x0=px(A_R), x1=px(152), y0=py(bot), y1=py(top),
                       fillcolor=STRIP, line=dict(color=FRAME, width=1), layer='above'))
    annotations.append(dict(x=px((A_R + 152) / 2), y=py((top + bot) / 2), xref='paper', yref='paper', text=c,
                            textangle=90, xanchor='center', yanchor='middle', showarrow=False,
                            font=dict(family=FONT, size=11, color='#1a1a1a')))

# ---------------- Panels B and C ----------------
P_TOP0, P_STEP, P_H, STRIP_H = 29.25, 77.6, 60.5, 11.75
COLS = [
    dict(panels=B_PANELS, L=253.0, R=448.5, xr=[-8300, 177500], color=RED, length=HHV4_LENGTH,
         ticks=[0, 50000, 100000, 150000], start=12),
    dict(panels=C_PANELS, L=499.0, R=697.5, xr=[-11800, 247400], color=BLUE, length=HHV5_LENGTH,
         ticks=[0, 50000, 100000, 150000, 200000], start=20),
]
for col in COLS:
    for i, (cancer, sample, cols) in enumerate(col['panels']):
        n = col['start'] + i
        top = P_TOP0 + i * P_STEP
        bot = top + P_H
        xa, ya = f'x{n}', f'y{n}'
        # genomic baseline (depth 0 over whole genome)
        fig.add_trace(go.Scatter(x=[0, col['length']], y=[0, 0], mode='lines',
                                 line=dict(color=col['color'], width=3), xaxis=xa, yaxis=ya,
                                 showlegend=False, hoverinfo='skip'))
        xs, ys = flatten(cols)
        fig.add_trace(go.Scatter(x=xs, y=ys, mode='markers', marker=dict(color=col['color'], size=3),
                                 xaxis=xa, yaxis=ya, showlegend=False, hoverinfo='skip'))
        last = (i == len(col['panels']) - 1)
        layout[f'xaxis{n}'] = dict(domain=xdom(col['L'], col['R']), range=col['xr'], anchor=ya,
                                   tickvals=col['ticks'], ticktext=[str(t) for t in col['ticks']],
                                   showticklabels=last, ticks='outside' if last else '', ticklen=3,
                                   tickcolor='#333333', tickfont=TICKFONT,
                                   showgrid=True, gridcolor=GRID, gridwidth=0.7,
                                   minor=dict(dtick=25000, tick0=0, showgrid=True, gridcolor=MINOR, ticks=''),
                                   showline=True, mirror=True, linecolor=FRAME, linewidth=1, zeroline=False)
        layout[f'yaxis{n}'] = dict(domain=ydom(top, bot), range=[-0.4, 8.4], anchor=xa,
                                   tickvals=[0, 2, 4, 6, 8], ticks='outside', ticklen=3, tickcolor='#333333',
                                   tickfont=dict(family=FONT, size=9, color='#333333'),
                                   showgrid=True, gridcolor=GRID, gridwidth=0.7,
                                   minor=dict(dtick=1, tick0=1, showgrid=True, gridcolor=MINOR, ticks=''),
                                   showline=True, mirror=True, linecolor=FRAME, linewidth=1, zeroline=False)
        # gene annotations
        if col['start'] == 12:
            shapes.append(dict(type='rect', xref=xa, yref=f'{ya} domain', x0=LF1_BALF3[0], x1=LF1_BALF3[1],
                               y0=0, y1=1, fillcolor=PURPLE_GENE, line=dict(width=0), layer='below'))
            shapes.append(dict(type='line', xref=xa, yref=f'{ya} domain', x0=EBER1_POS, x1=EBER1_POS,
                               y0=0, y1=1, line=dict(color=GREEN_GENE, width=1.2), layer='below'))
        else:
            shapes.append(dict(type='rect', xref=xa, yref=f'{ya} domain', x0=RNA27[0], x1=RNA27[1],
                               y0=0, y1=1, fillcolor=ORANGE_GENE, line=dict(color='#fdae6b', width=0.8),
                               layer='below'))
        # strip
        st = top - STRIP_H
        shapes.append(dict(type='rect', xref='paper', yref='paper', x0=px(col['L']), x1=px(col['R']),
                           y0=py(top), y1=py(st), fillcolor=STRIP, line=dict(color=FRAME, width=1), layer='above'))
        annotations.append(dict(x=px(col['L'] + 3), y=py(st + STRIP_H / 2 + 0.5), xref='paper', yref='paper',
                                text=f'<b>{cancer}</b>', xanchor='left', yanchor='middle', showarrow=False,
                                font=dict(family=FONT, size=12.5, color='#707070')))
        annotations.append(dict(x=px((col['L'] + col['R']) / 2), y=py(st + STRIP_H / 2), xref='paper',
                                yref='paper', text=sample, xanchor='center', yanchor='middle', showarrow=False,
                                font=dict(family=FONT, size=10, color='#1a1a1a')))

# ---------------- legends ----------------
for (y0, y1, color, label) in [(17.3, 26.7, RED, 'HHV4'), (36.0, 45.4, BLUE, 'HHV5')]:
    shapes.append(dict(type='rect', xref='paper', yref='paper', x0=px(174.5), x1=px(188.5), y0=py(y1), y1=py(y0),
                       fillcolor=color, line=dict(width=0)))
    annotations.append(dict(x=px(192), y=py((y0 + y1) / 2), xref='paper', yref='paper', text=label,
                            xanchor='left', yanchor='middle', showarrow=False,
                            font=dict(family=FONT, size=12, color='#1a1a1a')))

GENE_ROWS = [('EBER-1', 189), ('LF1', 209), ('BILF1', 220.5), ('BALF5', 232), ('BALF4', 244), ('BALF3', 256),
             ('RNA2.7', 274)]
for name, yy in GENE_ROWS:
    annotations.append(dict(x=px(209), y=py(yy), xref='paper', yref='paper', text=f'<i>{name}</i>',
                            xanchor='right', yanchor='middle', showarrow=False,
                            font=dict(family=FONT, size=11.5, color='#1a1a1a')))
for (t, b, color) in [(183.5, 194, GREEN_GENE), (202, 263, PURPLE_GENE), (269.5, 279, ORANGE_GENE)]:
    shapes.append(dict(type='rect', xref='paper', yref='paper', x0=px(213), x1=px(223), y0=py(b), y1=py(t),
                       fillcolor=color, line=dict(width=0)))

# ---------------- titles / labels ----------------
def label(x, y, text, size, angle=0, bold=False, anchor='center'):
    annotations.append(dict(x=px(x), y=py(y), xref='paper', yref='paper',
                            text=f'<b>{text}</b>' if bold else text, textangle=angle, showarrow=False,
                            xanchor=anchor, yanchor='middle', font=dict(family=FONT, size=size, color='#1a1a1a')))

label(6, 9, 'A', 10, bold=True)
label(229, 14, 'B', 10, bold=True)
label(472, 15, 'C', 10, bold=True)
label(12, 320, 'Count', 14, angle=-90)
label(85, 658, 'RPHM', 14)
label(234, 332, 'Depth (log2 scale)', 11, angle=-90)
label(352, 659, "HHV4's genomic coordinate", 14)
label(598, 659, "HHV5's genomic coordinate", 14)

fig.update_layout(width=W, height=H, margin=dict(l=0, r=0, t=0, b=0), paper_bgcolor='white',
                  plot_bgcolor='white', barmode='overlay', showlegend=False, shapes=shapes,
                  annotations=annotations, font=dict(family=FONT), **layout)
fig.write_html('out.html', config={'displayModeBar': False},
               post_script="document.body.style.margin='0px';document.body.style.padding='0px';")
